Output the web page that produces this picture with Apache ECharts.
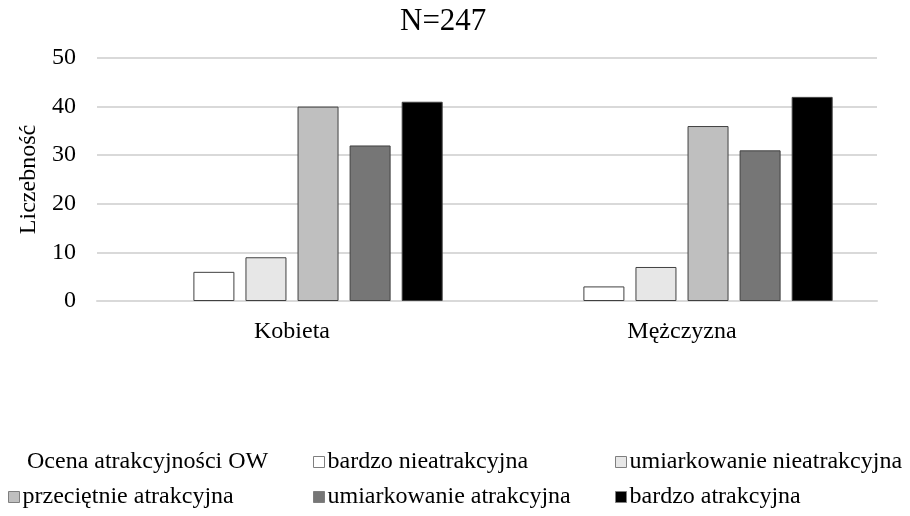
<!DOCTYPE html>
<html>
<head>
<meta charset="utf-8">
<script src="https://cdn.jsdelivr.net/npm/echarts@6/dist/echarts.min.js"></script>
<style>html,body{margin:0;padding:0;background:#fff;}#c{width:910px;height:516px;}</style>
</head>
<body>
<div id="c"></div>
<script>
var titleText = 'N=247';
var categories = ['Kobieta', 'Mężczyzna'];
var seriesNames = ['Ocena atrakcyjności OW', 'bardzo nieatrakcyjna', 'umiarkowanie nieatrakcyjna', 'przeciętnie atrakcyjna', 'umiarkowanie atrakcyjna', 'bardzo atrakcyjna'];
var valuesLegendTitle = ['-', '-'];
var valuesBardzoNie = [6, 3];
var valuesUmiarkNie = [9, 7];
var valuesPrzecietnie = [40, 36];
var valuesUmiark = [32, 31];
var valuesBardzo = [41, 42];
var yTicks = [0, 10, 20, 30, 40, 50];
var yAxisName = 'Liczebność';

var allValues = [valuesLegendTitle, valuesBardzoNie, valuesUmiarkNie, valuesPrzecietnie, valuesUmiark, valuesBardzo];
var colors = ['rgba(0,0,0,0)', '#ffffff', '#e7e7e7', '#bfbfbf', '#767676', '#000000'];
var legendPos = [[13, 450], [313, 450], [615, 450], [8, 485], [313, 485], [615, 485]];
var FONT = 'Times New Roman';

var series = seriesNames.map(function (n, i) {
  return {
    name: n,
    type: 'bar',
    data: allValues[i],
    barWidth: 41,
    barGap: '27%',
    itemStyle: {
      color: colors[i],
      borderColor: i === 0 ? 'rgba(0,0,0,0)' : '#404040',
      borderWidth: i === 0 ? 0 : 1
    },
    emphasis: { disabled: true },
    animation: false
  };
});

var legends = seriesNames.map(function (n, i) {
  return {
    data: [{ name: n, itemStyle: i === 0 ? { color: 'rgba(0,0,0,0)', borderWidth: 0 } : { color: colors[i], borderColor: '#7f7f7f', borderWidth: 1 } }],
    left: legendPos[i][0],
    top: legendPos[i][1],
    itemWidth: 11,
    itemHeight: 11,
    icon: 'rect',
    selectedMode: false,
    padding: 0,
    textStyle: { fontFamily: FONT, fontSize: 24, color: '#000', padding: [0, 0, 0, -2] }
  };
});

var chart = echarts.init(document.getElementById('c'), null, { renderer: 'canvas' });
chart.setOption({
  backgroundColor: '#ffffff',
  animation: false,
  textStyle: { fontFamily: FONT },
  title: {
    text: titleText,
    left: 395,
    top: 1,
    textStyle: { fontFamily: FONT, fontSize: 31, fontWeight: 'normal', color: '#000' }
  },
  legend: legends,
  grid: { left: 97, right: 33, top: 58, bottom: 215, containLabel: false },
  xAxis: {
    type: 'category',
    data: categories,
    axisLine: { lineStyle: { color: '#d9d9d9', width: 2 } },
    axisTick: { show: false },
    axisLabel: { fontFamily: FONT, fontSize: 24, color: '#000', margin: 19 }
  },
  yAxis: {
    type: 'value',
    min: yTicks[0],
    max: yTicks[yTicks.length - 1],
    interval: yTicks[1] - yTicks[0],
    name: yAxisName,
    nameLocation: 'middle',
    nameRotate: 90,
    nameGap: 51,
    nameTextStyle: { fontFamily: FONT, fontSize: 24, color: '#000' },
    axisLine: { show: false },
    axisTick: { show: false },
    splitLine: { lineStyle: { color: '#d9d9d9', width: 2 } },
    axisLabel: { fontFamily: FONT, fontSize: 24, color: '#000', margin: 21 }
  },
  series: series
});
</script>
</body>
</html>
